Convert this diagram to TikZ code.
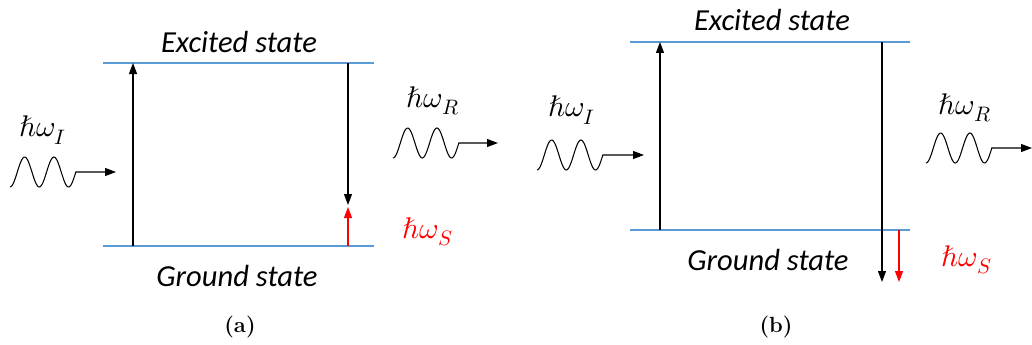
\documentclass[tikz,border=0pt]{standalone}
\usepackage{fontspec}
\usepackage{unicode-math}
\newfontfamily\calibfont{Carlito}
\usetikzlibrary{arrows.meta,positioning}
\definecolor{levelblue}{RGB}{91,155,213}
\tikzset{
    level/.style={levelblue, line width=1.3pt},
    transition/.style={-{Triangle[length=2.2mm,width=1.6mm]}, line width=0.6pt},
    emitted/.style={transition, red},
    statetext/.style={font=\calibfont\itshape\fontsize{17.4}{20}\selectfont, inner sep=0pt},
    photontext/.style={font=\fontsize{17}{20}\selectfont, inner sep=0pt},
    photon/.style={-{Triangle[length=2.2mm,width=1.6mm]}, line width=0.6pt},
    captiontext/.style={font=\bfseries\fontsize{12.5}{14}\selectfont, inner sep=0pt}
}
% wavy photon: start x, centre y, arrow tip x
\newcommand{\photonwave}[3]{%
  \draw[photon] plot[domain=0:810, samples=61, smooth] ({#1+\x/12.3},{#2+15*cos(\x)}) -- (#3,#2);}

\begin{document}
\begin{tikzpicture}[x=0.02cm, y=-0.02cm]
    \useasboundingbox (0,0) rectangle (1032,345);
    % (a) Stokes
    \coordinate (exAl) at (103,63);  \coordinate (exAr) at (374,63);
    \coordinate (grAl) at (103,246); \coordinate (grAr) at (374,246);
    \draw[level] (exAl) -- (exAr);
    \draw[level] (grAl) -- (grAr);
    \node[statetext] (exAtxt) at (239,42) {Excited state};
    \node[statetext] (grAtxt) at (237,276) {Ground state};
    \coordinate (upAbot) at (133,246); \coordinate (upAtop) at (133,63);
    \coordinate (dnAtop) at (348,63);  \coordinate (dnAend) at (348,205);
    \coordinate (rdAbot) at (348,246); \coordinate (rdAend) at (348,207);
    \draw[transition] (upAbot) -- (upAtop);
    \draw[transition] (dnAtop) -- (dnAend);
    \draw[emitted] (rdAbot) -- (rdAend);
    \node[photontext, red] (sA) at (428,232) {$\hbar\omega_S$};
    \node[photontext] (iA) at (43,130) {$\hbar\omega_I$};
    \node[photontext] (rA) at (433,101) {$\hbar\omega_R$};
    \photonwave{10}{172}{116}
    \photonwave{393}{143}{498}
    \node[captiontext] (capA) at (240,327) {(a)};
    % (b) anti-Stokes
    \coordinate (exBl) at (630,42);  \coordinate (exBr) at (910,42);
    \coordinate (grBl) at (630,230); \coordinate (grBr) at (910,230);
    \draw[level] (exBl) -- (exBr);
    \draw[level] (grBl) -- (grBr);
    \node[statetext] (exBtxt) at (772,20) {Excited state};
    \node[statetext] (grBtxt) at (768,260) {Ground state};
    \coordinate (upBbot) at (660,230); \coordinate (upBtop) at (660,42);
    \coordinate (dnBtop) at (882,42);  \coordinate (dnBend) at (882,282);
    \coordinate (rdBtop) at (899,230); \coordinate (rdBend) at (899,282);
    \draw[transition] (upBbot) -- (upBtop);
    \draw[transition] (dnBtop) -- (dnBend);
    \draw[emitted] (rdBtop) -- (rdBend);
    \node[photontext, red] (sB) at (967,260) {$\hbar\omega_S$};
    \node[photontext] (iB) at (572,110) {$\hbar\omega_I$};
    \node[photontext] (rB) at (965,108) {$\hbar\omega_R$};
    \photonwave{537}{155}{644}
    \photonwave{926}{148}{1032}
    \node[captiontext] (capB) at (776,327) {(b)};
\end{tikzpicture}
\end{document}
